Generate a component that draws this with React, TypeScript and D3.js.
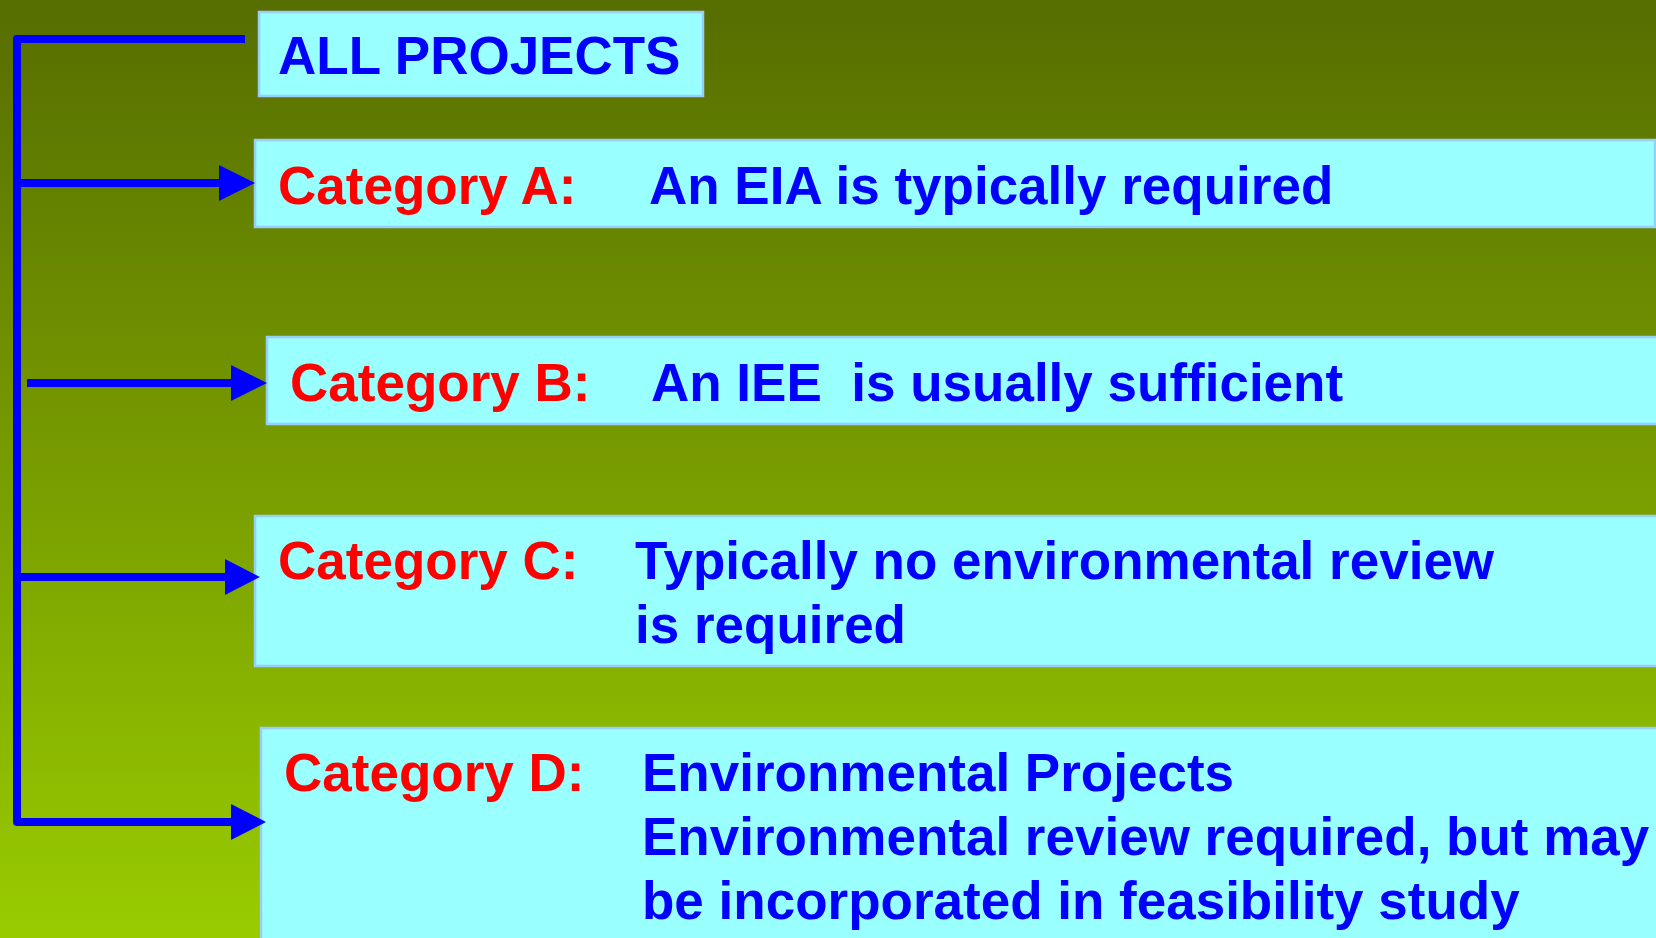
import React from "react";
import * as d3 from "d3";

const W = 1656;
const H = 938;

const title = "ALL PROJECTS";
const categoryLabels = ["Category A:", "Category B:", "Category C:", "Category D:"];
const descriptions: string[][] = [
  ["An EIA is typically required"],
  ["An IEE  is usually sufficient"],
  ["Typically no environmental review", "is required"],
  ["Environmental Projects", "Environmental review required, but may", "be incorporated in feasibility study"],
];

// layout (pixels)
const boxLayout = [
  { x: 255, y: 140, w: 1400, h: 87, labelX: 278, descX: 649, base: 204, arrowStart: 17, arrowBase: 219, tip: 255, arrowY: 183 },
  { x: 267, y: 337, w: 1400, h: 87, labelX: 290, descX: 651, base: 401, arrowStart: 27, arrowBase: 231, tip: 267, arrowY: 383 },
  { x: 255, y: 516, w: 1410, h: 150, labelX: 278, descX: 635, base: 579, arrowStart: 17, arrowBase: 225, tip: 260, arrowY: 577 },
  { x: 261, y: 728, w: 1410, h: 230, labelX: 284, descX: 642, base: 791, arrowStart: 17, arrowBase: 231, tip: 266, arrowY: 822 },
];

const FONT = "'Liberation Sans', Arial, sans-serif";
const FS = 53;
const LINE = 64;

export default function App() {
  const line = d3.line<[number, number]>();
  const bracket = line([
    [245, 39],
    [17, 39],
    [17, 822],
    [boxLayout[3].arrowBase, 822],
  ]);
  return (
    <div style={{ position: "fixed", left: 0, top: 0, width: W, height: H }}>
      <svg width={W} height={H} style={{ display: "block" }}>
        <defs>
          <linearGradient id="bg" x1="0" y1="0" x2="0" y2="1">
            <stop offset="0" stopColor="#566d00" />
            <stop offset="1" stopColor="#99cc00" />
          </linearGradient>
        </defs>
        <rect x={0} y={0} width={W} height={H} fill="url(#bg)" />

        {/* title box */}
        <rect x={259} y={12} width={444} height={84} fill="#99ffff" stroke="#99ccff" strokeWidth={2.5} />
        <text x={278} y={74} fontFamily={FONT} fontWeight="bold" fontSize={53} fill="#0000ff">
          {title}
        </text>

        {/* bracket */}
        <path d={bracket ?? ""} fill="none" stroke="#0000ff" strokeWidth={8} strokeLinejoin="round" strokeLinecap="butt" />

        {boxLayout.map((b, i) => (
          <g key={i}>
            <rect x={b.x} y={b.y} width={b.w} height={b.h} fill="#99ffff" stroke="#99ccff" strokeWidth={2.5} />
            {i < 3 && (
              <path
                d={line([[b.arrowStart, b.arrowY], [b.arrowBase, b.arrowY]]) ?? ""}
                stroke="#0000ff"
                strokeWidth={8}
                fill="none"
              />
            )}
            <path
              d={`M${b.arrowBase},${b.arrowY - 18}L${b.tip},${b.arrowY}L${b.arrowBase},${b.arrowY + 18}Z`}
              fill="#0000ff"
            />
            <text x={b.labelX} y={b.base} fontFamily={FONT} fontWeight="bold" fontSize={FS} fill="#ff0000">
              {categoryLabels[i]}
            </text>
            {descriptions[i].map((t, j) => (
              <text
                key={j}
                x={b.descX}
                y={b.base + j * LINE}
                fontFamily={FONT}
                fontWeight="bold"
                fontSize={FS}
                fill="#0000ff"
                style={{ whiteSpace: "pre" }}
              >
                {t}
              </text>
            ))}
          </g>
        ))}
      </svg>
    </div>
  );
}
